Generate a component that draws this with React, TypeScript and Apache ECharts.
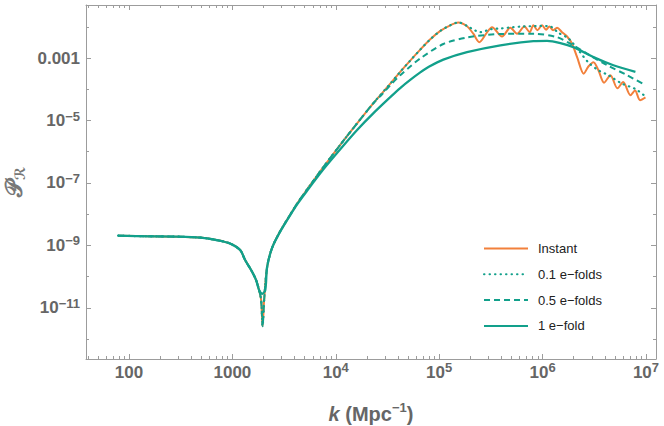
import React, { useEffect, useRef } from "react";
import * as echarts from "echarts";

// ---- axis ranges (log10 units) ----
const xMinLog = 1.584;
const xMaxLog = 7.097;
const yMinLog = -12.64;
const yMaxLog = -1.3;
const xMajorLogs = [2, 3, 4, 5, 6, 7];
const yMajorLogs = [-11, -9, -7, -5, -3];
const yMinorLogs = [-12, -10, -8, -6, -4, -2];
const xMinorMultipliers = [2, 3, 4, 5, 6, 7, 8, 9];
const xMinorDecades = [1, 2, 3, 4, 5, 6, 7];

// ---- series names ----
const seriesNames = ["Instant", "0.1 e\u2212folds", "0.5 e\u2212folds", "1 e\u2212fold"];

// ---- data: log10 k (Mpc^-1) and log10 P_R ----
const instantLogK = [1.894, 2.203, 2.45, 2.687, 2.833, 2.968, 3.075, 3.123, 3.181, 3.229, 3.258, 3.278, 3.292, 3.307, 3.336, 3.384, 3.462, 3.588, 3.636, 3.72, 3.781, 3.878, 4.043, 4.204, 4.362, 4.527, 4.623, 4.72, 4.817, 4.914, 5.011, 5.107, 5.185, 5.269, 5.33, 5.388, 5.456, 5.511, 5.608, 5.688, 5.753, 5.824, 5.875, 5.911, 5.95, 5.995, 6.034, 6.066, 6.102, 6.14, 6.188, 6.237, 6.285, 6.334, 6.398, 6.443, 6.492, 6.54, 6.595, 6.656, 6.724, 6.779, 6.85, 6.894, 6.943, 6.995];
const instantLogP = [-8.69, -8.71, -8.72, -8.75, -8.82, -8.93, -9.15, -9.47, -9.79, -10.11, -10.43, -10.75, -11.59, -10.75, -9.69, -9.08, -8.55, -7.86, -7.61, -7.22, -6.94, -6.5, -5.78, -5.1, -4.45, -3.82, -3.44, -3.08, -2.73, -2.4, -2.13, -1.95, -1.86, -1.98, -2.22, -2.49, -2.21, -2.01, -2.31, -2.03, -2.22, -1.99, -2.17, -1.95, -2.11, -1.95, -2.09, -1.99, -2.11, -2.03, -2.17, -2.31, -2.54, -2.97, -3.5, -3.27, -3.13, -3.39, -3.79, -3.55, -3.97, -3.77, -4.19, -4.04, -4.35, -4.26];

const tenthLogK = [1.894, 2.203, 2.45, 2.687, 2.833, 2.968, 3.075, 3.123, 3.181, 3.229, 3.258, 3.278, 3.292, 3.307, 3.336, 3.384, 3.462, 3.588, 3.636, 3.72, 3.781, 3.878, 4.043, 4.204, 4.362, 4.527, 4.623, 4.72, 4.817, 4.914, 5.011, 5.107, 5.185, 5.269, 5.35, 5.4, 5.495, 5.6, 5.688, 5.8, 5.882, 5.98, 6.076, 6.153, 6.25, 6.347, 6.443, 6.54, 6.637, 6.769, 6.898, 6.995];
const tenthLogP = [-8.69, -8.71, -8.72, -8.75, -8.82, -8.93, -9.15, -9.47, -9.79, -10.11, -10.43, -10.75, -11.59, -10.75, -9.69, -9.08, -8.55, -7.86, -7.61, -7.22, -6.94, -6.5, -5.78, -5.1, -4.45, -3.82, -3.44, -3.08, -2.73, -2.4, -2.13, -1.95, -1.86, -1.97, -2.12, -2.17, -2.08, -2.05, -2.02, -1.99, -1.98, -1.97, -1.99, -2.19, -2.37, -2.75, -3.14, -3.39, -3.55, -3.82, -3.99, -4.23];

const halfLogK = [1.894, 2.203, 2.45, 2.687, 2.833, 2.968, 3.075, 3.123, 3.181, 3.229, 3.258, 3.278, 3.292, 3.307, 3.336, 3.384, 3.462, 3.588, 3.636, 3.72, 3.781, 3.878, 4.043, 4.204, 4.362, 4.45, 4.527, 4.623, 4.72, 4.817, 5.04, 5.269, 5.592, 5.911, 6.14, 6.269, 6.431, 6.624, 6.818, 6.995];
const halfLogP = [-8.69, -8.71, -8.72, -8.75, -8.82, -8.93, -9.15, -9.47, -9.79, -10.11, -10.43, -10.75, -11.59, -10.75, -9.69, -9.08, -8.55, -7.86, -7.61, -7.22, -6.94, -6.5, -5.78, -5.1, -4.45, -4.15, -3.87, -3.55, -3.27, -3.01, -2.55, -2.34, -2.23, -2.22, -2.33, -2.54, -2.86, -3.23, -3.55, -3.87];

const oneLogK = [1.894, 2.203, 2.45, 2.687, 2.833, 2.968, 3.075, 3.123, 3.181, 3.229, 3.258, 3.29, 3.318, 3.336, 3.384, 3.462, 3.588, 3.636, 3.72, 3.781, 3.878, 4.043, 4.204, 4.362, 4.527, 4.623, 4.72, 4.817, 4.9, 5.04, 5.269, 5.592, 5.911, 6.044, 6.172, 6.298, 6.492, 6.685, 6.898];
const oneLogP = [-8.69, -8.71, -8.72, -8.75, -8.82, -8.93, -9.15, -9.47, -9.79, -10.11, -10.43, -10.55, -10.43, -9.69, -9.08, -8.56, -7.88, -7.64, -7.26, -6.99, -6.57, -5.92, -5.31, -4.77, -4.25, -3.96, -3.7, -3.46, -3.28, -3.05, -2.81, -2.59, -2.46, -2.45, -2.52, -2.65, -2.97, -3.23, -3.44];

const ORANGE = "#F2803B";
const TEAL = "#12A08B";
const AXIS = "#9c9c9c";
const LABEL = "#666666";
const FONT = "Liberation Sans, Arial, sans-serif";

const pair = (xs: number[], ys: number[]) => xs.map((x, i) => [x, ys[i]]);

const supText = (n: number) => (n < 0 ? "\u2212" + Math.abs(n) : String(n));

const tickRich = {
  b: { fontSize: 17, fontWeight: "bold", color: LABEL, fontFamily: FONT, lineHeight: 22 },
  s: { fontSize: 13, fontWeight: "bold", color: LABEL, fontFamily: FONT, lineHeight: 12, verticalAlign: "top" },
};

export default function App() {
  const ref = useRef<HTMLDivElement>(null);
  useEffect(() => {
    if (!ref.current) return;
    const chart = echarts.init(ref.current, undefined, { renderer: "svg" });
    const xMinor: number[] = [];
    xMinorDecades.forEach((d) =>
      xMinorMultipliers.forEach((m) => {
        const v = d + Math.log10(m);
        if (v > xMinLog && v < xMaxLog) xMinor.push(v);
      })
    );
    const lineAx = { show: true, lineStyle: { color: AXIS, width: 1 } };
    const noLine = { show: false };
    const mkX = (pos: string, ticks: number[], len: number, main: boolean, labels: boolean) => ({
      type: "value",
      position: pos,
      min: xMinLog,
      max: xMaxLog,
      axisLine: main ? lineAx : noLine,
      axisTick: { show: true, inside: true, length: len, customValues: ticks, lineStyle: { color: AXIS, width: 1 } },
      axisLabel: labels
        ? {
            show: true,
            customValues: xMajorLogs,
            margin: 2,
            formatter: (v: number) => {
              const n = Math.round(v);
              if (n === 2) return "{b|100}";
              if (n === 3) return "{b|1000}";
              return "{b|10}{s|" + supText(n) + "}";
            },
            rich: tickRich,
          }
        : { show: false },
      splitLine: { show: false },
      ...(labels
        ? {
            name: "{i|k}{n| (Mpc}{s|\u22121}{n|)}",
            nameLocation: "middle",
            nameGap: 42,
            nameTextStyle: {
              rich: {
                i: { fontSize: 20, fontWeight: "bold", fontStyle: "italic", color: LABEL, fontFamily: FONT, lineHeight: 26 },
                n: { fontSize: 20, fontWeight: "bold", color: LABEL, fontFamily: FONT, lineHeight: 26 },
                s: { fontSize: 13, fontWeight: "bold", color: LABEL, fontFamily: FONT, lineHeight: 14, verticalAlign: "top" },
              },
            },
          }
        : {}),
    });
    const mkY = (pos: string, ticks: number[], len: number, main: boolean, labels: boolean) => ({
      type: "value",
      position: pos,
      min: yMinLog,
      max: yMaxLog,
      axisLine: main ? lineAx : noLine,
      axisTick: { show: true, inside: true, length: len, customValues: ticks, lineStyle: { color: AXIS, width: 1 } },
      axisLabel: labels
        ? {
            show: true,
            customValues: yMajorLogs,
            margin: 6,
            formatter: (v: number) => {
              const n = Math.round(v);
              if (n === -3) return "{b|0.001}";
              return "{b|10}{s|" + supText(n) + "}";
            },
            rich: tickRich,
          }
        : { show: false },
      splitLine: { show: false },
      ...(labels
        ? {
            name: "{p|\uD835\uDCAB}{r|\u211B}",
            nameLocation: "middle",
            nameGap: 58,
            nameTextStyle: {
              padding: [0, 0, 0, 0],
              rich: {
                p: { fontSize: 23, color: "#777", fontWeight: "bold", fontFamily: "DejaVu Sans, DejaVu Serif, serif", lineHeight: 26 },
                r: { fontSize: 14, color: "#777", fontWeight: "bold", fontFamily: "DejaVu Sans, DejaVu Serif, serif", lineHeight: 14, verticalAlign: "bottom" },
              },
            },
          }
        : {}),
    });

    const mkSeries = (name: string, data: number[][], lineStyle: any) => ({
      name,
      type: "line",
      data,
      xAxisIndex: 0,
      yAxisIndex: 0,
      symbol: "none",
      showSymbol: false,
      smooth: 0.3,
      clip: true,
      lineStyle,
      itemStyle: { color: lineStyle.color },
    });

    chart.setOption({
      animation: false,
      backgroundColor: "#ffffff",
      grid: { left: 86, right: 8, top: 5, bottom: 67, containLabel: false, outerBoundsMode: "none" },
      xAxis: [
        mkX("bottom", xMajorLogs, 5, true, true),
        mkX("bottom", xMinor, 3, false, false),
        mkX("top", xMajorLogs, 5, true, false),
        mkX("top", xMinor, 3, false, false),
      ],
      yAxis: [
        mkY("left", yMajorLogs, 5, true, true),
        mkY("left", yMinorLogs, 3, false, false),
        mkY("right", yMajorLogs, 5, true, false),
        mkY("right", yMinorLogs, 3, false, false),
      ],
      legend: {
        orient: "vertical",
        left: 478,
        top: 237,
        itemWidth: 44,
        itemHeight: 14,
        itemGap: 12.8,
        itemStyle: { opacity: 0 },
        textStyle: { fontSize: 13, color: "#222", fontFamily: FONT, padding: [0, 0, 0, 5] },
        data: seriesNames,
      },
      series: [
        mkSeries(seriesNames[0], pair(instantLogK, instantLogP), { color: ORANGE, width: 2 }),
        mkSeries(seriesNames[1], pair(tenthLogK, tenthLogP), { color: TEAL, width: 2.2, type: [0.5, 5], cap: "round" }),
        mkSeries(seriesNames[2], pair(halfLogK, halfLogP), { color: TEAL, width: 2, type: [6, 4] }),
        mkSeries(seriesNames[3], pair(oneLogK, oneLogP), { color: TEAL, width: 2.3 }),
      ],
    });
    return () => chart.dispose();
  }, []);
  return <div ref={ref} style={{ position: "absolute", left: 0, top: 0, width: 664, height: 426 }} />;
}
